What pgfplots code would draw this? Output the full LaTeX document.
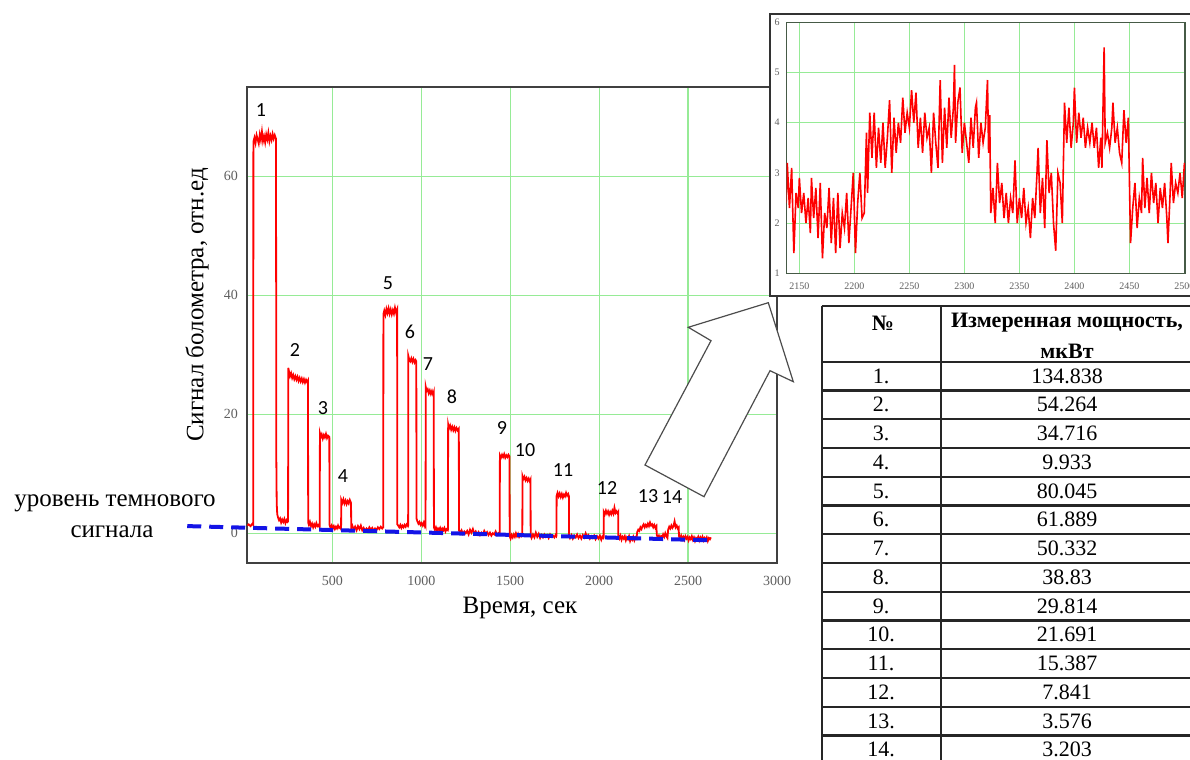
\documentclass[border=0pt]{standalone}
\usepackage{pgfplots}
\pgfplotsset{compat=1.18}
\usepackage{fontspec}
\setmainfont{Liberation Serif}
\newfontfamily\numfont{Carlito}
\definecolor{gridgreen}{RGB}{150,235,150}
\definecolor{tickgray}{RGB}{95,95,95}
\definecolor{dashblue}{RGB}{20,20,230}
\definecolor{inframe}{RGB}{70,90,70}
\begin{document}
\begin{tikzpicture}
\useasboundingbox (0pt,0pt) rectangle (595pt,380pt);
\clip (0pt,0pt) rectangle (595pt,380pt);
% ---------------- main axis ----------------
\begin{axis}[
  at={(123.5pt,98.5pt)}, anchor=south west,
  scale only axis, width=265pt, height=238pt,
  xmin=20, xmax=3000, ymin=-5, ymax=75,
  xtick={500,1000,...,3000}, ytick={0,20,40,60},
  grid=major, major grid style={gridgreen, line width=0.6pt},
  major tick length=0pt,
  axis line style={black!75, line width=1.1pt},
  tick label style={font=\fontsize{7}{8}\selectfont, text=tickgray},
  /pgf/number format/assume math mode=true,
  /pgf/number format/1000 sep={},
  xticklabel style={yshift=-3pt},
  yticklabel style={xshift=-1pt},
  clip=false,
]
\addplot[red, line width=0.9pt] coordinates {
(22,1.3) (30,1.5) (40,1.2) (50,1.6)
(55,1.4) (56,65.8) (62,66.5) (68,65.6) (74,66.9) (80,66.2) (86,65.5) (92,67.0) (98,66.1) (104,67.5) (110,65.9) (116,66.7) (122,65.7) (128,67.0) (134,66.2) (140,67.3) (146,65.9) (152,66.8) (158,66.1) (164,67.1) (170,66.3) (176,66.9) (183,66.3)
(185,12) (187,5) (190,3.2) (195,2.6) (200,2.2) (206,2.5) (212,1.8) (218,2.3) (224,1.9) (230,2.4) (236,1.7) (242,2.2) (248,1.9)
(251,2.0) (252,27.8) (256,27.2) (262,26.4) (268,26.9) (274,26.1) (280,26.6) (286,25.9) (292,26.4) (298,25.8) (304,26.3) (310,25.6) (316,26.1) (322,25.5) (328,26.0) (334,25.4) (340,25.9) (346,25.3) (352,25.8) (358,25.4) (363,25.7)
(364,1.8) (368,1.4) (374,1.9) (380,1.2) (386,1.6) (392,1.0) (398,1.5) (404,1.1) (410,1.7) (416,1.2) (422,1.4) (428,1.0)
(429,1.2) (430,16.8) (435,16.2) (440,16.6) (446,15.9) (452,16.5) (458,16.1) (464,16.7) (470,16.0) (476,16.4) (483,16.2)
(484,1.4) (490,0.9) (496,1.3) (502,0.8) (508,1.2) (514,0.7) (520,1.1) (526,0.8) (532,1.3) (538,0.9) (544,1.1) (548,0.8)
(549,1.0) (550,5.6) (556,5.1) (562,5.7) (568,5.0) (574,5.5) (580,4.9) (586,5.4) (592,5.0) (598,5.6) (605,5.1)
(606,0.9) (612,1.3) (620,0.6) (628,1.1) (636,0.5) (644,1.2) (652,0.7) (660,1.3) (668,0.5) (676,0.9) (684,0.4) (692,0.8) (700,0.5) (708,1.0) (716,0.6) (724,0.9) (732,0.4) (740,0.8) (748,0.5) (756,1.0) (764,0.7) (772,1.1) (780,0.8) (785,1.0)
(786,1.0) (787,36.8) (792,37.4) (798,36.7) (804,37.7) (810,37.0) (816,37.8) (822,36.9) (828,37.6) (834,36.8) (840,37.5) (846,36.9) (852,37.9) (858,37.1) (864,37.6)
(865,1.5) (870,1.3) (876,1.0) (882,1.4) (888,0.9) (894,1.3) (900,1.0) (906,1.4) (912,1.1) (918,1.5) (925,1.2)
(926,1.3) (927,29.8) (932,29.2) (938,28.9) (944,29.4) (950,28.8) (956,29.3) (962,28.7) (968,29.1) (972,28.9)
(973,2.5) (978,2.0) (984,1.6) (990,1.9) (996,1.4) (1002,1.7) (1008,1.3) (1014,1.8) (1020,1.2) (1023,1.5)
(1024,1.4) (1025,24.6) (1030,23.9) (1036,24.2) (1042,23.5) (1048,24.0) (1054,23.4) (1060,23.9) (1066,23.3) (1070,23.7)
(1071,1.0) (1076,0.6) (1082,1.0) (1088,0.4) (1094,0.8) (1100,0.5) (1106,0.9) (1112,0.4) (1118,0.8) (1124,0.5) (1130,0.9) (1136,0.3) (1142,0.7) (1149,0.5)
(1150,0.6) (1151,18.3) (1156,17.6) (1162,18.1) (1168,17.4) (1174,17.9) (1180,17.3) (1186,17.8) (1192,17.2) (1198,17.7) (1204,17.3) (1211,17.6)
(1212,0.5) (1218,0.1) (1226,0.5) (1234,-0.1) (1242,0.3) (1250,0.0) (1258,0.4) (1266,-0.2) (1274,0.6) (1282,0.1) (1290,0.7) (1298,-0.1) (1306,0.3) (1314,-0.2) (1322,0.2) (1330,-0.3) (1338,0.1) (1346,-0.2) (1354,0.4) (1362,-0.1) (1370,0.2) (1378,-0.3) (1386,0.1) (1394,-0.4) (1402,0.0) (1410,-0.2) (1418,0.3) (1426,-0.3) (1434,0.0) (1440,-0.2)
(1441,-0.1) (1442,13.1) (1448,12.7) (1454,13.2) (1460,12.8) (1466,13.3) (1472,12.7) (1478,13.1) (1484,12.8) (1490,13.2) (1496,12.9)
(1497,-0.5) (1502,-0.9) (1508,-0.3) (1514,-0.7) (1520,-0.2) (1526,-0.6) (1532,0.0) (1538,-0.5) (1544,-0.1) (1550,-0.6) (1556,-0.2) (1562,-0.5) (1567,-0.3)
(1568,-0.3) (1569,9.6) (1574,9.1) (1580,9.5) (1586,8.9) (1592,9.3) (1598,8.8) (1604,9.2) (1610,8.7) (1614,9.0)
(1615,-0.4) (1620,-0.8) (1628,-0.2) (1636,-0.7) (1644,0.1) (1652,-0.6) (1660,-0.1) (1668,-0.8) (1676,-0.3) (1684,-0.7) (1692,-0.2) (1700,-0.6) (1708,-0.3) (1716,-0.8) (1724,-0.2) (1732,-0.6) (1740,-0.4) (1748,-0.7) (1755,-0.3) (1759,-0.5)
(1760,-0.4) (1761,6.3) (1766,6.8) (1772,6.2) (1778,6.7) (1784,6.1) (1790,6.6) (1796,6.0) (1802,6.5) (1808,6.2) (1814,6.8) (1820,6.3) (1826,6.6) (1830,6.2)
(1831,-0.4) (1836,-0.8) (1844,-0.3) (1852,-0.9) (1860,-0.4) (1868,-0.7) (1876,-0.2) (1884,-0.8) (1892,-0.4) (1900,-0.9) (1908,-0.3) (1916,-0.7) (1924,0.0) (1932,-0.6) (1940,-0.3) (1948,-0.9) (1956,-0.5) (1964,-0.8) (1972,-0.4) (1980,-1.0) (1988,-0.5) (1996,-0.9) (2004,-0.4) (2012,-1.1) (2018,-0.6) (2024,-0.8)
(2025,-0.7) (2026,3.6) (2032,3.2) (2038,3.8) (2044,3.3) (2050,3.7) (2056,3.1) (2062,3.6) (2068,3.2) (2074,3.8) (2080,3.3) (2086,4.3) (2092,3.4) (2098,3.7) (2104,3.3) (2107,3.5)
(2108,-0.5) (2114,-0.9) (2120,-0.4) (2126,-1.1) (2132,-0.6) (2138,-0.9) (2144,-0.5) (2150,-1.2) (2156,-0.7) (2162,-1.0) (2168,-0.5) (2174,-1.3) (2180,-0.8) (2186,-1.1) (2192,-0.6) (2198,-1.2) (2204,-0.7) (2210,-0.9)
(2214,0.2) (2220,0.6) (2226,0.4) (2232,1.0) (2238,0.7) (2244,1.2) (2250,1.5) (2256,1.0) (2262,1.4) (2268,1.1) (2274,1.6) (2280,1.2) (2286,1.8) (2292,1.3) (2298,1.5) (2304,1.0) (2310,1.4) (2316,0.9) (2322,1.2)
(2324,-0.3) (2330,-0.7) (2336,-0.4) (2342,-0.9) (2348,-0.5) (2354,-0.8) (2360,-0.2) (2366,-0.6) (2372,0.0) (2378,-0.5) (2384,-0.8)
(2388,0.6) (2394,1.1) (2400,0.8) (2406,1.3) (2412,0.9) (2418,1.2) (2424,2.0) (2430,1.0) (2436,1.3) (2442,0.8) (2447,1.0)
(2449,-0.5) (2455,-0.9) (2461,-0.4) (2467,-1.0) (2473,-0.6) (2479,-1.1) (2485,-0.5) (2491,-0.9) (2497,-0.6) (2503,-1.2) (2509,-0.7) (2515,-1.0) (2521,-0.5) (2527,-1.1) (2533,-0.7) (2539,-1.3) (2545,-0.8) (2551,-1.0) (2557,-0.6) (2563,-1.2) (2569,-0.7) (2575,-1.1) (2581,-0.6) (2587,-1.2) (2593,-0.8) (2599,-1.1) (2605,-0.7) (2611,-1.3) (2617,-0.8) (2623,-1.0) (2628,-0.7)
};
\addplot[dashblue, line width=2pt, dash pattern=on 7pt off 4pt] coordinates {(-316,1.2) (2640,-1.2)};
\end{axis}
\begin{scope}[x=0.5pt,y=0.5pt]
% axis titles
\node[font=\fontsize{12.5}{14}\selectfont] at (520,152) {Время, сек};
\node[font=\fontsize{12.5}{14}\selectfont, rotate=90] at (197,455) {Сигнал болометра, отн.ед};
\node[font=\fontsize{12.5}{14}\selectfont] at (115,257) {уровень темнового};
\node[font=\fontsize{12.5}{14}\selectfont] at (112,228) {сигнала};
% pulse numbers
\begin{scope}[every node/.style={font=\numfont\fontsize{10}{12}\selectfont}]
\node at (261,650) {1};
\node at (295,410) {2};
\node at (323,352) {3};
\node at (343,284) {4};
\node at (388,477) {5};
\node at (410,428) {6};
\node at (428,396) {7};
\node at (452,363) {8};
\node at (502,332) {9};
\node at (525,310) {10};
\node at (563,290) {11};
\node at (607,272) {12};
\node at (648,264) {13};
\node at (672,263) {14};
\end{scope}
% arrow
\draw[fill=white, draw=black!70, line width=0.6pt] (645,295) -- (711,419.3) -- (688.3,432.7) -- (768.3,457.3) -- (793.3,378.3) -- (770,389.3) -- (704,263.3) -- cycle;
% inset outer frame
\draw[fill=white, draw=black!80, line width=1.2pt] (770,746) rectangle (1200,464);
\end{scope}
% ---------------- inset ----------------
\begin{axis}[
  at={(393.35pt,243.35pt)}, anchor=south west,
  scale only axis, width=199.2pt, height=125.5pt,
  xmin=2138.5, xmax=2500.6, ymin=1, ymax=6,
  xtick={2150,2200,...,2500}, ytick={1,2,...,6},
  grid=major, major grid style={gridgreen, line width=0.5pt},
  major tick length=0pt,
  axis line style={inframe, line width=0.7pt},
  tick label style={font=\fontsize{5}{6}\selectfont, text=tickgray},
  /pgf/number format/assume math mode=true,
  /pgf/number format/1000 sep={},
  xticklabel style={yshift=-1pt},
  yticklabel style={xshift=0pt},
]
\addplot[red, line width=0.8pt] coordinates {
(2138,2.4) (2139,3.2) (2141,2.3) (2143,3.1) (2145,1.4) (2147,2.6) (2149,2.3) (2150,2.9) (2152,2.2) (2154,2.6) (2156,2.0) (2158,2.5) (2160,1.8) (2161,2.9) (2163,2.1) (2165,2.7) (2167,1.7) (2169,2.8) (2171,1.3) (2173,2.2) (2175,1.9) (2177,2.7) (2179,1.6) (2181,2.5) (2183,1.4) (2185,2.6) (2187,1.5) (2189,2.2) (2191,1.9) (2193,2.6) (2195,1.6) (2197,2.3) (2199,3.0) (2201,1.4) (2203,2.4) (2205,3.0) (2207,2.1) (2209,2.2)
(2211,3.8) (2212,2.6) (2214,4.2) (2216,3.3) (2218,4.2) (2220,3.1) (2222,3.9) (2224,3.2) (2226,4.0) (2228,3.1) (2230,3.7) (2232,4.45) (2234,3.0) (2236,4.1) (2238,3.4) (2240,4.0) (2242,3.6) (2244,4.5) (2246,3.8) (2248,4.2) (2250,3.9) (2252,4.65) (2254,4.0) (2256,4.6) (2258,3.5) (2260,4.1) (2262,3.4) (2264,4.2) (2266,3.7) (2268,3.9) (2270,3.0) (2272,4.2) (2274,3.6) (2276,3.1) (2278,4.85) (2280,3.2) (2282,4.3) (2284,3.5) (2286,4.5) (2288,3.7) (2290,4.3) (2291,5.15) (2292,3.6) (2294,4.4) (2296,4.7) (2298,3.4) (2300,4.0) (2302,3.6) (2304,3.2) (2306,4.1) (2308,3.5) (2310,4.3) (2311,4.4) (2313,3.3) (2315,4.0) (2317,3.6) (2319,3.9) (2321,4.85) (2322,3.4) (2323,4.15)
(2324,2.2) (2326,2.7) (2328,2.0) (2330,3.2) (2332,2.4) (2334,2.8) (2336,2.1) (2338,2.6) (2340,2.0) (2342,2.5) (2344,2.2) (2346,3.25) (2348,2.0) (2350,2.5) (2352,2.1) (2354,2.7) (2356,2.0) (2358,2.3) (2360,1.7) (2362,2.5) (2364,2.1) (2366,3.0) (2367,3.5) (2369,2.2) (2371,2.9) (2373,1.9) (2375,3.65) (2377,2.6) (2379,3.0) (2381,2.0) (2383,1.45) (2385,3.0) (2387,2.8) (2389,2.0)
(2391,4.4) (2393,3.6) (2395,4.3) (2397,3.5) (2399,4.0) (2400,4.7) (2402,3.6) (2404,4.2) (2406,3.7) (2408,4.1) (2410,3.5) (2412,3.9) (2414,3.6) (2416,4.0) (2418,3.5) (2420,3.9) (2422,3.1) (2424,3.7) (2425,3.1) (2427,5.5) (2428,3.6) (2430,3.8) (2432,3.5) (2434,3.9) (2435,4.4) (2437,3.6) (2439,3.9) (2441,3.4) (2443,3.2) (2445,4.25) (2447,3.6) (2449,4.1)
(2451,1.6) (2453,2.3) (2455,2.8) (2457,1.9) (2459,2.5) (2461,2.2) (2462,3.3) (2464,2.3) (2466,2.9) (2468,2.2) (2470,3.0) (2472,2.4) (2474,2.8) (2476,2.0) (2478,2.7) (2480,2.3) (2482,2.8) (2484,2.1) (2485,1.6) (2487,2.6) (2488,3.2) (2490,2.4) (2492,2.8) (2494,2.6) (2496,3.0) (2498,2.5) (2500,3.2)
};
\end{axis}
% ---------------- table ----------------
\begin{scope}[x=0.5pt,y=0.5pt]
\begin{scope}[line width=1.1pt, black!85]
\draw (821.7,454) -- (1200,454);
\draw (821.7,398.3) -- (1200,398.3);
\foreach \k in {1,...,14} {\draw (821.7,{398.3-28.75*\k}) -- (1200,{398.3-28.75*\k});}
\draw (821.7,454) -- (821.7,-10);
\draw (941,454) -- (941,-10);
\draw (1194,454) -- (1194,-10);
\end{scope}
\begin{scope}[every node/.style={font=\fontsize{11}{13}\selectfont}]
\node[font=\fontsize{11}{13}\selectfont\bfseries] at (883,437) {№};
\node[font=\fontsize{11}{13}\selectfont\bfseries] at (1067,437) {Измеренная мощность,};
\node[font=\fontsize{11}{13}\selectfont\bfseries] at (1067,408.3) {мкВт};
\node at (881,383.9) {1.};   \node at (1067,383.9) {134.838};
\node at (881,355.2) {2.};   \node at (1067,355.2) {54.264};
\node at (881,326.4) {3.};   \node at (1067,326.4) {34.716};
\node at (881,297.7) {4.};   \node at (1067,297.7) {9.933};
\node at (881,268.9) {5.};   \node at (1067,268.9) {80.045};
\node at (881,240.2) {6.};   \node at (1067,240.2) {61.889};
\node at (881,211.4) {7.};   \node at (1067,211.4) {50.332};
\node at (881,182.7) {8.};   \node at (1067,182.7) {38.83};
\node at (881,153.9) {9.};   \node at (1067,153.9) {29.814};
\node at (881,125.2) {10.};  \node at (1067,125.2) {21.691};
\node at (881,96.4) {11.};   \node at (1067,96.4) {15.387};
\node at (881,67.7) {12.};   \node at (1067,67.7) {7.841};
\node at (881,38.9) {13.};   \node at (1067,38.9) {3.576};
\node at (881,10.2) {14.};   \node at (1067,10.2) {3.203};
\end{scope}
\end{scope}
\end{tikzpicture}
\end{document}
